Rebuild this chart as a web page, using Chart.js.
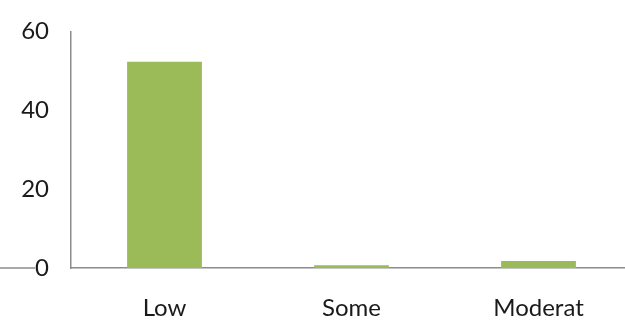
<!DOCTYPE html>
<html>
<head>
<meta charset="utf-8">
<script src="https://cdn.jsdelivr.net/npm/chart.js@4"></script>
<style>
  html, body { margin: 0; padding: 0; background: #fff; }
  #wrap { width: 625px; height: 321px; overflow: hidden; }
  #chart { display: block; margin-top: -5px; }
</style>
</head>
<body>
<div id="wrap"><canvas id="chart" width="640" height="326"></canvas></div>
<script>
const categories = ['Low', 'Some', 'Moderat'];
const values = [52.3, 0.7, 1.8];
const yTicks = [0, 20, 40, 60];

const axisColor = '#8c8c8c';
const fontSpec = { family: 'Lato', size: 24 };

// the zero line also runs out to the left of the "0" label
const zeroStub = {
    id: 'zeroStub',
    afterDraw(chart) {
        const y = chart.scales.y.getPixelForValue(0);
        const ctx = chart.ctx;
        ctx.save();
        ctx.strokeStyle = axisColor;
        ctx.lineWidth = 1.5;
        ctx.beginPath();
        ctx.moveTo(0, y);
        ctx.lineTo(35, y);
        ctx.stroke();
        ctx.restore();
    }
};

new Chart(document.getElementById('chart'), {
    type: 'bar',
    data: {
        labels: categories,
        datasets: [{
            data: values,
            backgroundColor: '#9bbb59',
            borderWidth: 0,
            barPercentage: 0.4,
            categoryPercentage: 1
        }]
    },
    options: {
        responsive: false,
        animation: false,
        layout: { padding: { top: 28, right: 8, left: 0, bottom: 0 } },
        plugins: { legend: { display: false }, tooltip: { enabled: false } },
        scales: {
            x: {
                grid: { display: false, drawTicks: false },
                border: { display: true, color: axisColor, width: 1.5 },
                ticks: { color: '#1a1a1a', font: fontSpec, padding: 26, maxRotation: 0 },
                afterFit(scale) { scale.height = 53; }
            },
            y: {
                min: 0,
                max: 60,
                grid: { display: false, drawTicks: false },
                border: { display: true, color: axisColor, width: 1.5 },
                afterBuildTicks(scale) { scale.ticks = yTicks.map(v => ({ value: v })); },
                ticks: { color: '#1a1a1a', font: fontSpec, padding: 22 },
                afterFit(scale) { scale.width = 71; }
            }
        }
    },
    plugins: [zeroStub]
});
</script>
</body>
</html>
